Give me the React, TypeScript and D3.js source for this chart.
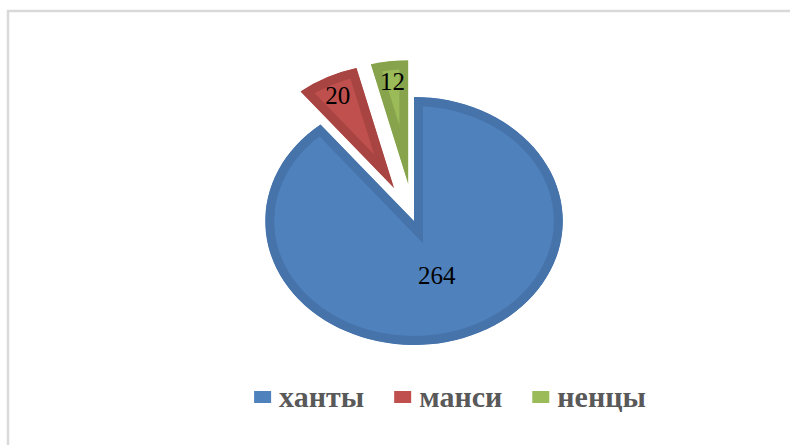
import React, { useEffect, useRef } from 'react';
import * as d3 from 'd3';

// chart data
const categories = ['ханты', 'манси', 'ненцы'];
const values = [264, 20, 12];
const fillColors = ['#4f81bd', '#c0504d', '#9bbb59'];
const edgeColors = ['#4673aa', '#a84542', '#87a44d'];

const serif = 'Liberation Serif, Times New Roman, serif';

function App() {
  const ref = useRef<SVGSVGElement | null>(null);

  function drawChart() {
    const svg = d3.select(ref.current);
    svg.selectAll('*').remove();

    const width = 790, height = 445;
    const cx = 414, cy = 221;
    const radius = 124;
    const stretch = 1.2; // pie is drawn a bit wider than tall
    const explode = 37;

    // frame
    svg.append('rect')
      .attr('x', 8).attr('y', 11)
      .attr('width', width + 20).attr('height', height + 20)
      .attr('fill', 'none')
      .attr('stroke', '#d9d9d9')
      .attr('stroke-width', 2.5);

    const pie = d3.pie<number>().sort(null).value(d => d);
    const slices = pie(values);
    const total = d3.sum(values);

    const arc = d3.arc<d3.PieArcDatum<number>>()
      .innerRadius(0)
      .outerRadius(radius);

    const defs = svg.append('defs');

    const g = svg.append('g')
      .attr('transform', `translate(${cx},${cy}) scale(${stretch},1)`);

    const offset = (d: d3.PieArcDatum<number>, i: number) => {
      if (i === 0) return [0, 0];
      const a = (d.startAngle + d.endAngle) / 2;
      return [Math.sin(a) * explode, -Math.cos(a) * explode];
    };

    slices.forEach((d, i) => {
      const [ox, oy] = offset(d, i);
      const id = `clip-${i}`;
      defs.append('clipPath').attr('id', id)
        .append('path').attr('d', arc(d) as string);

      const sg = g.append('g').attr('transform', `translate(${ox},${oy})`);
      sg.append('path')
        .attr('d', arc(d) as string)
        .attr('fill', fillColors[i])
        .attr('stroke', edgeColors[i])
        .attr('stroke-width', 18)
        .attr('vector-effect', 'non-scaling-stroke')
        .attr('clip-path', `url(#${id})`);
    });

    // value labels
    slices.forEach((d, i) => {
      const [ox, oy] = offset(d, i);
      const big = d.value / total > 0.5;
      const lr = big ? radius * 0.46 : radius * 0.84;
      const a = (d.startAngle + d.endAngle) / 2;
      const x = cx + (Math.sin(a) * lr + ox) * stretch;
      const y = cy - Math.cos(a) * lr + oy;
      svg.append('text')
        .attr('x', x).attr('y', y)
        .attr('dy', '0.35em')
        .attr('text-anchor', 'middle')
        .style('font-family', serif)
        .style('font-size', '25px')
        .attr('fill', '#000')
        .text(String(values[i]));
    });

    // legend
    const legend = svg.append('g');
    const legendY = 397;
    let x = 0;
    categories.forEach((c, i) => {
      const item = legend.append('g').attr('transform', `translate(${x},0)`);
      item.append('rect')
        .attr('x', 0).attr('y', legendY - 6)
        .attr('width', 17).attr('height', 12)
        .attr('fill', fillColors[i]);
      const t = item.append('text')
        .attr('x', 25).attr('y', legendY)
        .attr('dy', '0.32em')
        .style('font-family', serif)
        .style('font-weight', 'bold')
        .style('font-size', '30px')
        .attr('fill', '#595959')
        .text(c);
      const w = (t.node() as SVGTextElement).getComputedTextLength();
      x += 25 + w + 30;
    });
    const legendWidth = x - 30;
    legend.attr('transform', `translate(${450 - legendWidth / 2},0)`);
  }

  useEffect(() => {
    drawChart();
  }, []);

  return (
    <svg
      ref={ref}
      width={790}
      height={445}
      style={{ position: 'absolute', left: 0, top: 0, display: 'block', background: '#fff' }}
    />
  );
}

export default App;
